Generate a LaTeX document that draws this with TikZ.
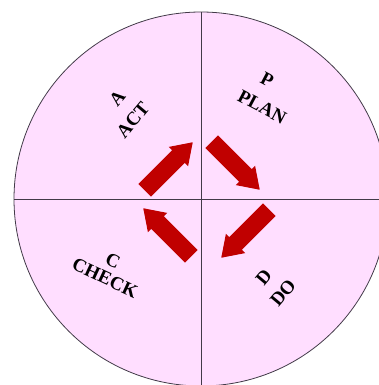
\documentclass[tikz,border=0pt]{standalone}
\usepackage{fontspec}
\setmainfont{Liberation Serif}
\usepackage{tikz}
\usetikzlibrary{shapes,shapes.arrows,positioning}
\definecolor{wheel}{RGB}{255,222,255}
\definecolor{rim}{RGB}{66,58,72}
\definecolor{cycle}{RGB}{192,0,0}

\begin{document}
\begin{tikzpicture}[x=1pt,y=1pt,
  phase/.style={font=\fontsize{19}{21}\selectfont\bfseries,inner sep=0pt,align=center},
  turn/.style={single arrow,fill=cycle,draw=none,inner sep=8.8pt,
    minimum height=68pt,single arrow head extend=4.7pt,
    single arrow tip angle=68,anchor=tip}]
\useasboundingbox (-201,-186) rectangle (178,199);
\clip (-201,-186) rectangle (178,199);
\draw[rim,fill=wheel,line width=0.8pt] (0,0) circle (187);
\draw[rim,line width=0.8pt] (0,187) -- (0,-187);
\draw[rim,line width=0.8pt] (-187,0) -- (187,0);
% the four steps
\node[turn,rotate=45] (toplan) at (-8,57) {};
\node[turn,rotate=-45] (todo) at (59,9) {};
\node[turn,rotate=-135] (tocheck) at (20,-59) {};
\node[turn,rotate=135] (toact) at (-58,-9) {};
% labels
\node[phase,rotate=-28] (plan) at (67.2,103.6) {P\hspace*{16pt}\\[5pt]PLAN};
\node[phase,rotate=50] (act) at (-78,87.5) {\hspace*{13pt}A\\[5pt]ACT};
\node[phase,rotate=-25] (check) at (-92,-70.3) {C\\[-2pt]CHECK};
\node[phase,rotate=50] (do) at (72.4,-86) {D\\[4pt]DO};
\end{tikzpicture}
\end{document}
